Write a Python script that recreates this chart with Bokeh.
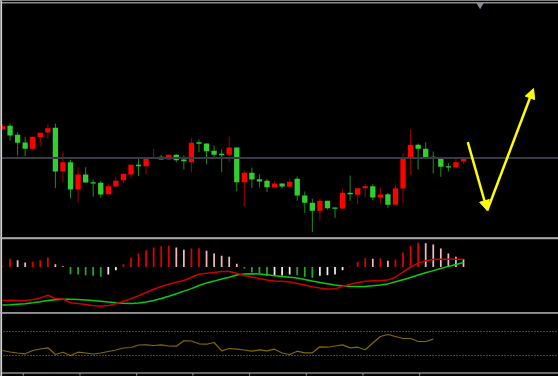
import numpy as np
from bokeh.plotting import figure
from bokeh.models import Range1d, Span, Arrow, NormalHead, ColumnDataSource
from bokeh.layouts import column
from bokeh.embed import file_html
from bokeh.resources import INLINE

# ---------------- data ----------------
opens = [107.3, 110.7, 101.7, 94.0, 87.7, 99.3, 104.0, 108.7, 65.0, 74.3,
         47.0, 62.0, 54.3, 53.7, 42.3, 50.0, 56.3, 62.0, 71.7, 70.3,
         78.3, 79.7, 77.0, 81.7, 77.0, 74.3, 94.3, 93.0, 85.7, 82.7,
         81.7, 89.0, 54.3, 63.7, 57.3, 55.7, 49.3, 53.0, 49.7, 57.7,
         41.0, 33.7, 25.7, 35.7, 29.0, 28.0, 43.7, 41.7, 48.3, 50.3,
         39.0, 42.3, 31.7, 48.0, 79.0, 91.7, 87.7, 79.7, 79.0, 70.3,
         69.0, 75.0]
highs = [112.0, 113.0, 104.3, 99.7, 100.0, 103.7, 112.0, 113.0, 85.3, 76.7,
         69.3, 69.3, 57.0, 55.3, 53.0, 59.3, 62.7, 71.7, 78.3, 79.0,
         87.7, 81.7, 81.7, 82.3, 81.0, 98.3, 97.0, 93.0, 91.0, 87.0,
         100.0, 89.0, 66.0, 69.0, 62.3, 57.7, 55.0, 53.0, 58.0, 60.0,
         45.0, 37.7, 38.0, 35.7, 29.0, 47.7, 61.0, 48.3, 53.0, 52.3,
         49.0, 43.7, 51.0, 83.0, 107.0, 93.0, 94.3, 85.0, 79.0, 73.7,
         77.7, 79.0]
lows = [107.0, 96.0, 81.0, 80.3, 86.0, 90.0, 97.7, 48.3, 54.3, 38.3,
        33.7, 54.0, 40.0, 39.0, 42.3, 50.0, 53.7, 58.3, 60.3, 62.3,
        78.3, 77.0, 77.0, 74.3, 67.0, 64.3, 84.3, 72.3, 79.7, 64.3,
        74.3, 45.3, 30.3, 48.3, 49.0, 44.3, 49.3, 48.3, 49.7, 35.7,
        23.7, 4.3, 15.7, 27.0, 18.3, 28.0, 35.7, 32.3, 39.0, 36.3,
        33.0, 28.3, 31.7, 33.0, 61.7, 67.0, 79.0, 63.0, 59.7, 65.0,
        69.0, 72.3]
closes = [110.3, 101.0, 93.7, 87.7, 99.7, 103.7, 108.3, 65.0, 74.3, 47.0,
          62.0, 54.0, 53.0, 42.0, 50.3, 55.7, 62.7, 71.7, 70.3, 79.0,
          79.3, 77.0, 81.7, 76.3, 75.3, 93.7, 92.7, 85.3, 81.7, 81.3,
          89.0, 54.3, 63.7, 57.0, 55.0, 49.3, 53.0, 50.0, 54.7, 41.0,
          33.7, 25.7, 35.7, 28.3, 27.7, 43.7, 42.3, 48.3, 50.3, 39.0,
          42.0, 31.7, 48.3, 79.3, 91.7, 87.7, 79.0, 78.3, 69.7, 69.0,
          74.3, 78.3]
ref_level = 78.5

macd_hist = [0.4, 8.3, 6.8, 4.5, 5.2, 6.8, 9.5, 2.8, 0.8, -7.2,
             -7.5, -8.2, -8.8, -9.8, -7.5, -3.2, 2.8, 9.2, 13.5, 16.8,
             19.5, 20.8, 21.2, 19.5, 17.2, 18.5, 18.8, 16.2, 13.5, 11.2,
             10.2, 3.2, -1.5, -5.5, -6.2, -9.0, -8.8, -8.6, -7.5, -8.2,
             -9.8, -10.8, -8.8, -8.2, -7.5, -3.2, 0.5, 5.2, 8.8, 8.2,
             8.6, 6.2, 7.5, 14.5, 21.2, 24.2, 23.8, 22.5, 18.5, 13.5,
             10.2, 7.8]
macd_dif = [-33.5, -33.2, -33.6, -33.5, -32.7, -30.9, -28.3, -31.5, -32.0, -35.8,
            -36.6, -37.5, -38.5, -39.2, -38.5, -36.7, -34.3, -31.8, -28.8, -25.5,
            -22.3, -19.5, -17.3, -15.2, -13.5, -10.2, -7.3, -6.3, -5.5, -4.5,
            -4.5, -6.3, -8.5, -10.1, -11.5, -13.0, -14.1, -14.2, -15.0, -16.5,
            -18.1, -19.8, -21.1, -22.0, -21.7, -19.5, -17.2, -15.5, -14.2, -13.7,
            -13.5, -13.1, -10.2, -5.0, 0.0, 3.9, 6.3, 7.5, 7.8, 7.8,
            7.8, 7.8]
macd_dea = [-38.1, -37.7, -37.2, -36.7, -35.8, -34.8, -33.6, -32.7, -32.2, -32.2,
            -32.5, -32.9, -33.5, -34.2, -35.0, -35.7, -36.3, -36.5, -36.0, -35.0,
            -33.5, -31.5, -29.2, -26.7, -24.1, -21.6, -18.5, -15.9, -14.1, -12.0,
            -10.2, -8.0, -7.1, -6.8, -7.0, -7.7, -8.7, -9.5, -10.2, -11.1,
            -12.4, -14.0, -15.5, -16.8, -18.1, -18.9, -19.3, -19.5, -19.5, -18.8,
            -18.0, -16.9, -14.8, -12.8, -10.5, -8.0, -5.7, -3.6, -1.5, 0.6,
            2.5, 4.5]

osc_values = [38.3, 35.8, 34.2, 32.8, 38.3, 40.8, 42.8, 31.7, 35.5, 30.0,
              35.5, 34.2, 32.5, 34.2, 36.7, 39.2, 42.5, 43.3, 47.5, 47.8,
              46.7, 47.8, 45.8, 45.5, 54.5, 54.2, 49.5, 48.8, 51.7, 37.8,
              41.7, 40.5, 39.2, 37.2, 39.5, 37.8, 40.5, 34.2, 31.7, 37.2,
              34.5, 34.5, 44.5, 43.8, 45.8, 47.8, 42.8, 43.8, 39.5, 50.8,
              61.7, 65.0, 61.7, 58.3, 58.3, 53.3, 53.3, 57.2]
osc_levels = [70, 30]
time_ticks = [2.75, 10.25, 17.75, 25.2, 32.7, 40.2, 47.7, 55.2]

# hand-drawn arrows (bar index, price)
arrow_x0 = [61.57, 64.14]
arrow_y0 = [94.3, 26.0]
arrow_x1 = [64.14, 70.27]
arrow_y1 = [26.0, 148.0]
shift_marker = (63.2, 231.8)

# ---------------- helpers ----------------
n = len(opens)
idx = np.arange(n)
xr = Range1d(-0.2647, 73.574)


def make_fig(h, y0, y1):
    f = figure(width=558, height=h, x_range=xr, y_range=Range1d(y0, y1),
               output_backend="svg", toolbar_location=None,
               x_axis_type=None, y_axis_type=None, min_border=0,
               background_fill_color="black", border_fill_color="black",
               outline_line_color=None)
    f.grid.visible = False
    return f


def left_edge(f):
    f.add_layout(Span(location=-0.159, dimension="height",
                      line_color="#d0d0d0", line_width=1.6))


# ---------------- price pane ----------------
p1 = make_fig(237, -1, 236)
up = [c >= o for o, c in zip(opens, closes)]
body_col = ["#ff0000" if u else "#32cd32" for u in up]
wick_col = ["#a00000" if u else "#1c8c1c" for u in up]
lo_b = np.minimum(opens, closes)
hi_b = np.maximum(opens, closes)
mid = (lo_b + hi_b) / 2
half = np.maximum((hi_b - lo_b) / 2, 0.7)
src = ColumnDataSource(dict(x=idx, o=opens, h=highs, l=lows, c=closes,
                            top=mid + half, bottom=mid - half,
                            bc=body_col, wc=wick_col))
p1.add_layout(Span(location=ref_level, dimension="width",
                   line_color="#373b43", line_width=1.8))
p1.segment(x0="x", y0="l", x1="x", y1="h", color="wc", line_width=1, source=src)
p1.vbar(x="x", top="top", bottom="bottom", width=0.7, fill_color="bc",
        line_color=None, source=src)
for xs, ys, xe, ye in zip(arrow_x0, arrow_y0, arrow_x1, arrow_y1):
    p1.add_layout(Arrow(end=NormalHead(size=10, fill_color="#ffff00",
                                       line_color="#ffff00", line_width=1),
                        x_start=xs, y_start=ys, x_end=xe, y_end=ye,
                        line_color="#ffff00", line_width=2.5))
p1.scatter([shift_marker[0]], [shift_marker[1]], marker="inverted_triangle",
           size=8, fill_color="#7d8d9d", line_color=None)
p1.add_layout(Span(location=233.8, dimension="width",
                   line_color="#8c8c8c", line_width=1.5))
left_edge(p1)

# ---------------- MACD pane ----------------
p2 = make_fig(75, -45.5, 29.5)
hcol = []
prev = None
for v in macd_hist:
    if v >= 0:
        hcol.append("#e00000" if prev is None or v >= prev else "#f2b8c2")
    else:
        hcol.append("#22aa22" if prev is None or v <= prev else "#f0f0f0")
    prev = v
hsrc = ColumnDataSource(dict(x=idx, t=np.maximum(macd_hist, 0),
                             b=np.minimum(macd_hist, 0), c=hcol))
p2.vbar(x="x", top="t", bottom="b", width=0.23, fill_color="c",
        line_color=None, source=hsrc)
p2.line(idx, macd_dea, line_color="#10c810", line_width=1.5)
p2.line(idx, macd_dif, line_color="#c80000", line_width=1.5)
p2.add_layout(Span(location=28.7, dimension="width",
                   line_color="#a8a8a8", line_width=2))
left_edge(p2)

# ---------------- oscillator pane ----------------
p3 = make_fig(64, -5, 101.667)
for lv in osc_levels:
    p3.add_layout(Span(location=lv, dimension="width", line_color="#8a8a8a",
                       line_width=1, line_dash="1 2"))
p3.line(np.arange(len(osc_values)), osc_values, line_color="#806b00",
        line_width=1.2)
p3.add_layout(Span(location=101.3, dimension="width",
                   line_color="#a8a8a8", line_width=2))
p3.add_layout(Span(location=0.8, dimension="width",
                   line_color="#8c8c8c", line_width=1.5))
p3.segment(x0=time_ticks, y0=[0.8] * len(time_ticks), x1=time_ticks,
           y1=[-3.5] * len(time_ticks), line_color="#a0a0a0", line_width=1)
left_edge(p3)

layout = column(p1, p2, p3, spacing=0)
open("out.html", "w").write(file_html(layout, INLINE))
